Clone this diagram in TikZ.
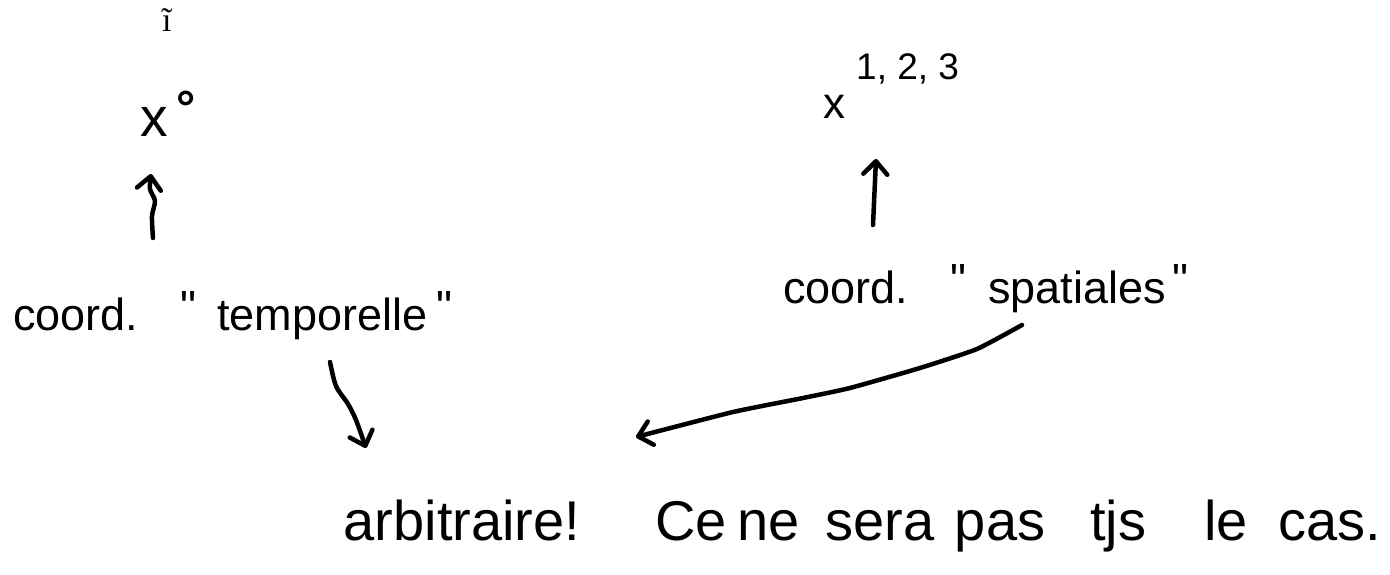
\documentclass[tikz,border=0pt]{standalone}
\usepackage{fontspec}
\setmainfont{Liberation Sans}
\newfontfamily\markfont{Liberation Serif}
\newfontfamily\qfont{Liberation Sans}[Ligatures=TeXOff]
\usetikzlibrary{arrows.meta}
\newcommand{\dq}{{\qfont\symbol{34}}}
\begin{document}
\begin{tikzpicture}[x=1pt,y=-1pt,
  txt/.style={inner sep=0pt, anchor=base west},
  word/.style={inner sep=0pt, anchor=base, font=\fontsize{56}{60}\selectfont},
  mid/.style={txt, font=\fontsize{45}{50}\selectfont},
  hand/.style={line width=4.5pt, line cap=round, line join=round,
    -{Straight Barb[length=13pt,width=24pt,round]}},
]
\fill[white] (0,0) rectangle (1390,575);
\useasboundingbox (0,0) rectangle (1390,575);

% small mark at top
\node[txt, font=\markfont\fontsize{34}{36}\selectfont] (mark) at (162,32) {ĩ};

% x^0
\node[txt, font=\fontsize{55}{60}\selectfont] (x0) at (140,137) {x};
\node[txt, font=\bfseries\fontsize{48}{52}\selectfont] (deg) at (176,125) {°};

% x^{1,2,3}
\node[txt, font=\fontsize{44}{48}\selectfont] (x123) at (823,119) {x};
\node[txt, font=\fontsize{37}{40}\selectfont] (sup) at (856,80) {1, 2, 3};

% coord. "temporelle"
\node[mid] (ct) at (13,330) {coord.};
\node[mid] (q1) at (180,322) {\dq};
\node[mid] (tp) at (217,330) {temporelle};
\node[mid] (q2) at (436,322) {\dq};

% coord. "spatiales"
\node[mid] (cs) at (783,303) {coord.};
\node[mid] (q3) at (950,295) {\dq};
\node[mid] (sp) at (988,303) {spatiales};
\node[mid] (q4) at (1172,295) {\dq};

% main sentence
\node[word] (w1) at (462,540) {arbitraire!};
\node[word] (w2) at (691,540) {Ce};
\node[word] (w3) at (769,540) {ne};
\node[word] (w4) at (880,540) {sera};
\node[word] (w5) at (1000,540) {pas};
\node[word] (w6) at (1118,540) {tjs};
\node[word] (w7) at (1226,540) {le};
\node[word] (w8) at (1330,540) {cas.};

% connector end points
\coordinate (a1s) at (153,238);
\coordinate (a1e) at (151,174);
\coordinate (a2s) at (873,225);
\coordinate (a2e) at (876,159);
\coordinate (a3s) at (1022,325);
\coordinate (a3e) at (636,437);
\coordinate (a4s) at (330,362);
\coordinate (a4e) at (366,448);

% arrows
\draw[hand] plot[smooth, tension=0.5] coordinates {(a1s) (152,216) (155,201) (150,189) (a1e)};
\draw[hand] (a2s) -- (a2e);
\draw[hand] plot[smooth, tension=0.3] coordinates {(a3s) (977,349) (920,368) (850,388) (803,398) (733,412) (a3e)};
\draw[hand] plot[smooth, tension=0.5] coordinates {(a4s) (336,386) (348,404) (356,420) (a4e)};
\end{tikzpicture}
\end{document}
